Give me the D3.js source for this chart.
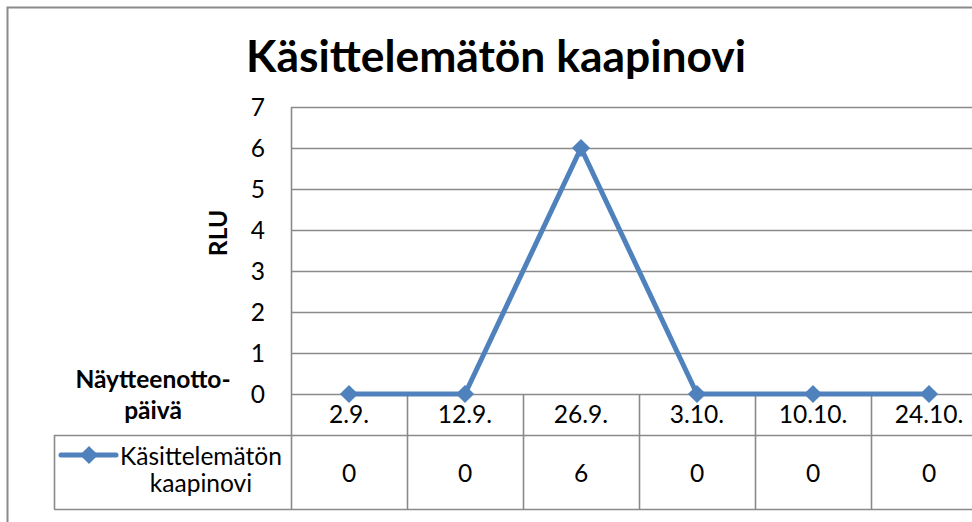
<!DOCTYPE html>
<html>
<head>
<meta charset="utf-8">
<script src="https://cdn.jsdelivr.net/npm/d3@7"></script>
<style>
  html, body { margin: 0; padding: 0; background: #fff; }
  svg { display: block; }
  text { font-family: Lato, "Open Sans", sans-serif; fill: #000; }
</style>
</head>
<body>
<svg id="chart" width="972" height="522"></svg>
<script>
// ---- data ----
const categories = ["2.9.", "12.9.", "26.9.", "3.10.", "10.10.", "24.10."];
const values = [0, 0, 6, 0, 0, 0];
const seriesName = "Käsittelemätön kaapinovi";
const legendLines = ["Käsittelemätön", "kaapinovi"];
const yTicks = [0, 1, 2, 3, 4, 5, 6, 7];
const chartTitle = "Käsittelemätön kaapinovi";
const yAxisTitle = "RLU";
const xAxisTitleLines = ["Näytteenotto-", "päivä"];

// ---- layout ----
const W = 972, H = 522;
const plotLeft = 291, band = 116;
const plotTop = 107, plotBottom = 394;
const catRowBottom = 435, dataRowBottom = 509;
const legendLeft = 54;
const gridColor = "#8a8a8a";
const lineColor = "#4f81bd";

const svg = d3.select("#chart");

const x = d3.scaleBand().domain(categories).range([plotLeft, plotLeft + band * categories.length]).padding(0);
const y = d3.scaleLinear().domain([0, 7]).range([plotBottom, plotTop]);

// fit font size so a text's width equals target
function fit(sel, target) {
  const node = sel.node();
  const fs = parseFloat(sel.attr("font-size"));
  const w = node.getComputedTextLength();
  sel.attr("font-size", fs * target / w);
  return fs * target / w;
}

// outer chart border
svg.append("path")
  .attr("d", `M7.5,${H + 2} V7.5 H${W + 2}`)
  .attr("fill", "none").attr("stroke", gridColor).attr("stroke-width", 2);

// title
const t = svg.append("text").text(chartTitle)
  .attr("x", 496).attr("y", 72).attr("text-anchor", "middle")
  .attr("font-weight", "bold").attr("font-size", 44);
fit(t, 500);

// gridlines
svg.append("g").selectAll("line").data(yTicks).join("line")
  .attr("x1", plotLeft).attr("x2", W + 2)
  .attr("y1", d => Math.round(y(d)) + 0.5).attr("y2", d => Math.round(y(d)) + 0.5)
  .attr("stroke", gridColor).attr("stroke-width", 1.6);

// measure base font size using legend label
const probe = svg.append("text").text(legendLines[0]).attr("font-size", 22);
const baseFs = fit(probe, 162);
probe.remove();

// y axis ticks
const yAxis = d3.axisLeft(y).tickValues(yTicks).tickSize(0).tickPadding(0).tickFormat(d3.format("d"));
const ga = svg.append("g").attr("transform", `translate(265,0)`).call(yAxis);
ga.select(".domain").remove();
ga.selectAll("text").attr("font-size", baseFs).attr("font-family", null).attr("fill", "#000").attr("dy", "0.36em");

// y axis title
svg.append("text").text(yAxisTitle)
  .attr("transform", "translate(227,233) rotate(-90)")
  .attr("text-anchor", "middle").attr("font-weight", "bold").attr("font-size", baseFs);

// x axis title
const xt = svg.append("g").selectAll("text").data(xAxisTitleLines).join("text")
  .text(d => d).attr("x", 153).attr("y", (d, i) => 388 + i * 31)
  .attr("text-anchor", "middle").attr("font-weight", "bold").attr("font-size", baseFs);

// table vertical lines
const vx = categories.map(c => x(c)).concat([x.range()[1]]);
svg.append("g").selectAll("line").data(vx).join("line")
  .attr("x1", d => Math.round(d) + 0.5).attr("x2", d => Math.round(d) + 0.5)
  .attr("y1", (d, i) => i === 0 ? plotTop : plotBottom).attr("y2", dataRowBottom)
  .attr("stroke", gridColor).attr("stroke-width", 1.6);

// table horizontal lines
svg.append("g").selectAll("line").data([catRowBottom, dataRowBottom]).join("line")
  .attr("x1", legendLeft).attr("x2", W + 2)
  .attr("y1", d => d + 0.5).attr("y2", d => d + 0.5)
  .attr("stroke", gridColor).attr("stroke-width", 1.6);
svg.append("line")
  .attr("x1", legendLeft + 0.5).attr("x2", legendLeft + 0.5)
  .attr("y1", catRowBottom).attr("y2", dataRowBottom)
  .attr("stroke", gridColor).attr("stroke-width", 1.6);

// category labels
svg.append("g").selectAll("text").data(categories).join("text")
  .text(d => d).attr("x", d => x(d) + x.bandwidth() / 2).attr("y", 423)
  .attr("text-anchor", "middle").attr("font-size", baseFs);

// data values
svg.append("g").selectAll("text").data(values).join("text")
  .text(d => d).attr("x", (d, i) => x(categories[i]) + x.bandwidth() / 2).attr("y", 482)
  .attr("text-anchor", "middle").attr("font-size", baseFs);

// legend key
const diamond = d3.symbol().type(d3.symbolDiamond2).size(210);
svg.append("line").attr("x1", 61).attr("x2", 116).attr("y1", 455).attr("y2", 455)
  .attr("stroke", lineColor).attr("stroke-width", 5).attr("stroke-linecap", "round");
svg.append("path").attr("d", diamond()).attr("transform", "translate(89,455)").attr("fill", lineColor);
svg.append("g").selectAll("text").data(legendLines).join("text")
  .text(d => d).attr("x", 201).attr("y", (d, i) => 465 + i * 27)
  .attr("text-anchor", "middle").attr("font-size", baseFs);

// series line
const pts = values.map((v, i) => [x(categories[i]) + x.bandwidth() / 2, y(v)]);
svg.append("path").datum(pts)
  .attr("d", d3.line())
  .attr("fill", "none").attr("stroke", lineColor).attr("stroke-width", 5)
  .attr("stroke-linejoin", "round");
svg.append("g").selectAll("path").data(pts).join("path")
  .attr("d", diamond()).attr("transform", d => `translate(${d[0]},${d[1]})`)
  .attr("fill", lineColor);
</script>
</body>
</html>
